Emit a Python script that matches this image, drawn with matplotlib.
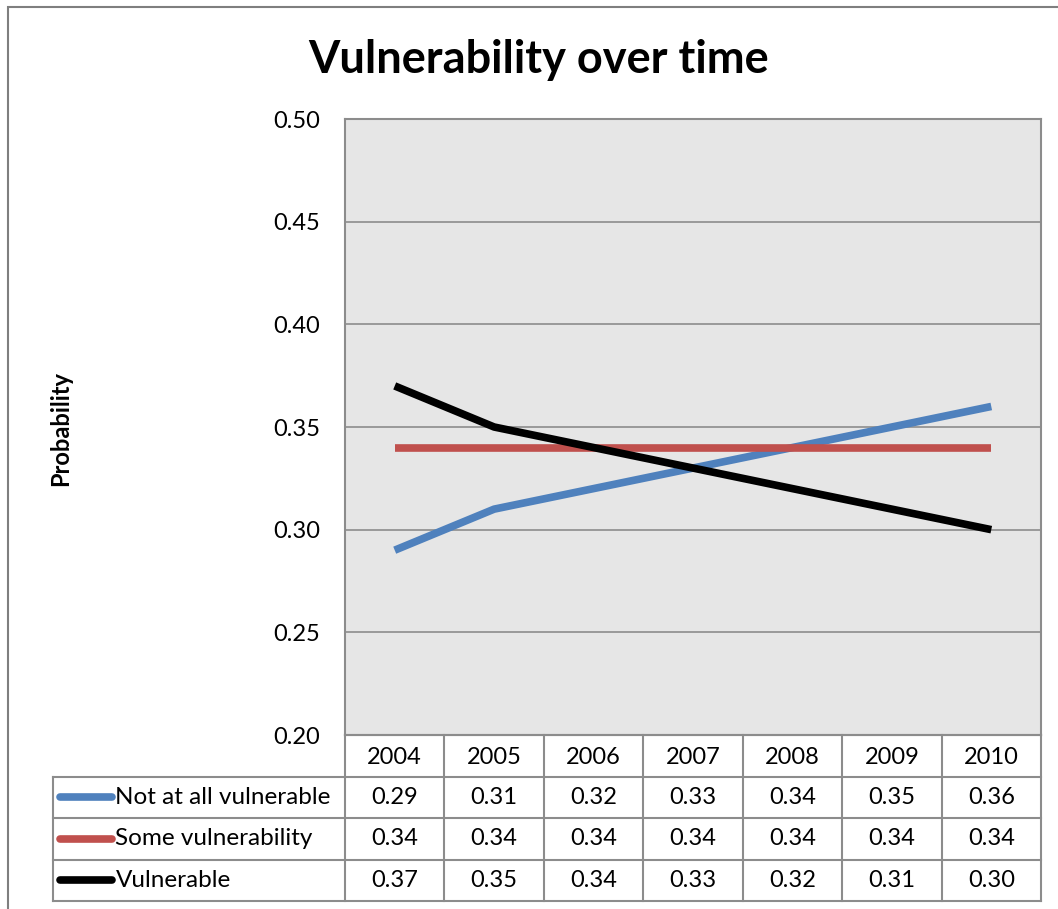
import numpy as np
import matplotlib.pyplot as plt
from matplotlib.patches import Rectangle
from matplotlib.lines import Line2D

plt.rcParams['font.family'] = ['Lato', 'DejaVu Sans']

years = ['2004', '2005', '2006', '2007', '2008', '2009', '2010']
series_names = ['Not at all vulnerable', 'Some vulnerability', 'Vulnerable']
not_at_all = [0.29, 0.31, 0.32, 0.33, 0.34, 0.35, 0.36]
some_vuln = [0.34, 0.34, 0.34, 0.34, 0.34, 0.34, 0.34]
vulnerable = [0.37, 0.35, 0.34, 0.33, 0.32, 0.31, 0.30]
yticks = [0.20, 0.25, 0.30, 0.35, 0.40, 0.45, 0.50]

values = [not_at_all, some_vuln, vulnerable]
colors = ['#4F81BD', '#C0504D', '#000000']
grid_col = '#8C8C8C'

W, H = 1058, 909
fig = plt.figure(figsize=(W / 100, H / 100), dpi=100)


def fx(px):
    return px / W


def fy(py):
    return 1 - py / H


# outer chart frame (only left and top visible)
fig.patches.append(Rectangle((fx(8), fy(960)), fx(1100) - fx(8), fy(7) - fy(960),
                             transform=fig.transFigure, fill=False,
                             edgecolor='#7F7F7F', lw=1.5))

pl, pr, pt, pb = 345, 1041, 119, 735
ax = fig.add_axes([fx(pl), fy(pb), fx(pr) - fx(pl), fy(pt) - fy(pb)])
ax.set_facecolor('#E6E6E6')
x = np.arange(len(years))
for vals, c in zip(values, colors):
    ax.plot(x, vals, color=c, lw=5.5, solid_capstyle='butt', solid_joinstyle='round')
ax.set_xlim(-0.5, len(years) - 0.5)
ax.set_ylim(0.20, 0.50)
ax.set_yticks(yticks)
ax.set_yticklabels(['%.2f' % v for v in yticks], fontsize=17)
ax.tick_params(axis='y', length=0, pad=18)
ax.set_xticks([])
ax.yaxis.grid(True, color=grid_col, lw=1.2)
ax.set_axisbelow(True)
for s in ax.spines.values():
    s.set_color(grid_col)
    s.set_linewidth(1.5)

fig.text(fx(61), fy(428), 'Probability', rotation=90, fontsize=17,
         fontweight='bold', ha='center', va='center')
fig.text(fx(539), fy(60), 'Vulnerability over time', fontsize=32.5,
         fontweight='bold', ha='center', va='center')

# data table below the plot
tl, tb = 53, 901
tab = fig.add_axes([fx(tl), fy(tb), fx(pr) - fx(tl), fy(pb) - fy(tb)])
col_w = (pr - pl) / len(years)
x0 = -0.5 - (pl - tl) / col_w
tab.set_xlim(x0, len(years) - 0.5)
tab.set_ylim(4, 0)
tab.axis('off')
lw_t = 1.5
tab.plot([-0.5, len(years) - 0.5], [0, 0], color=grid_col, lw=lw_t, clip_on=False)
for r in range(1, 5):
    tab.plot([x0, len(years) - 0.5], [r, r], color=grid_col, lw=lw_t, clip_on=False)
tab.plot([x0, x0], [1, 4], color=grid_col, lw=lw_t, clip_on=False)
for i in range(len(years) + 1):
    tab.plot([i - 0.5, i - 0.5], [0, 4], color=grid_col, lw=lw_t, clip_on=False)
for i, yr in enumerate(years):
    tab.text(i, 0.55, yr, ha='center', va='center', fontsize=17)
for r, (name, vals, c) in enumerate(zip(series_names, values, colors)):
    yrow = r + 1.5
    sw0 = x0 + 4 / col_w
    sw1 = x0 + 62 / col_w
    tab.add_line(Line2D([sw0 + 0.03, sw1 - 0.03], [yrow, yrow], color=c, lw=5.5,
                        solid_capstyle='round'))
    tab.text(sw1 + 0.005, yrow, name, ha='left', va='center', fontsize=17.5)
    for i, v in enumerate(vals):
        tab.text(i, yrow, '%.2f' % v, ha='center', va='center', fontsize=17)

fig.savefig('out.png', dpi=100)
